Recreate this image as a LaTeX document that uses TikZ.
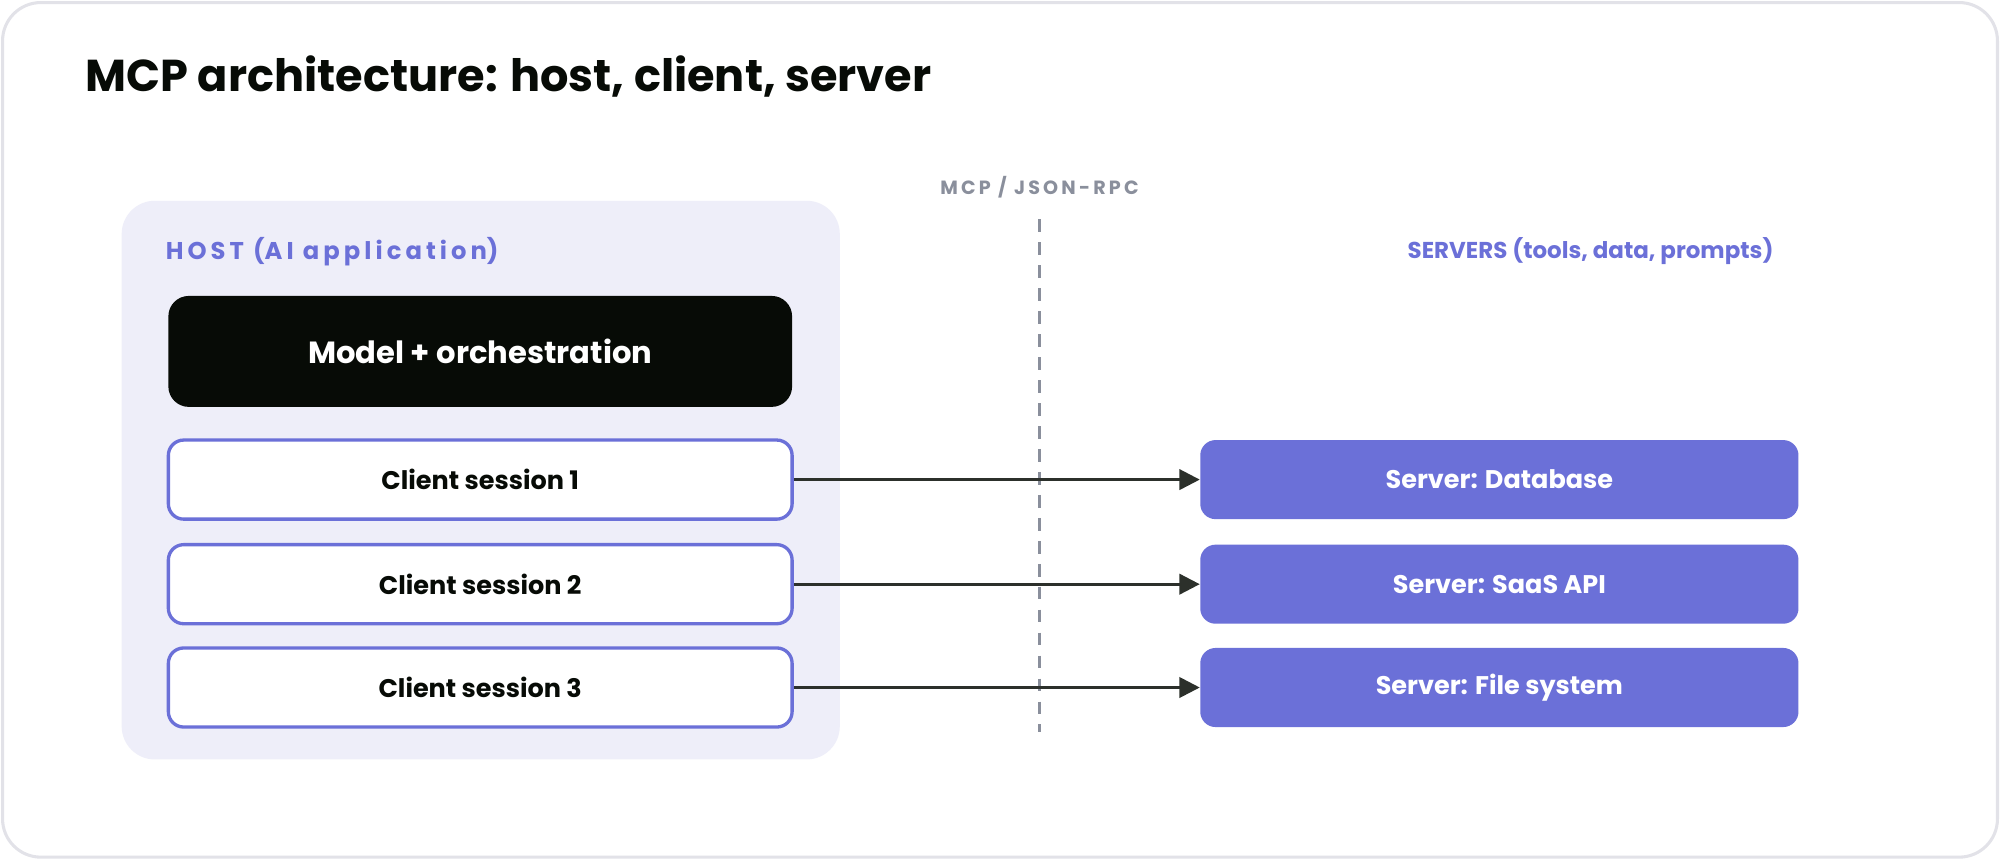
\documentclass[tikz,border=0pt]{standalone}
\usepackage{fontspec}
\setmainfont{Poppins}
\usetikzlibrary{arrows.meta}
\definecolor{pur}{HTML}{6B70D8}
\definecolor{hostbg}{HTML}{EEEEF9}
\definecolor{blk}{HTML}{070B06}
\definecolor{gr}{HTML}{8A8F9C}
\definecolor{frame}{HTML}{E2E2E8}
\begin{document}
\begin{tikzpicture}[x=0.5pt,y=-0.5pt,
  client/.style={draw=pur,line width=1.3pt,fill=white,rounded corners=6pt,minimum width=244.5pt,minimum height=31pt,font=\fontsize{10}{12}\selectfont\bfseries,text=blk},
  server/.style={fill=pur,rounded corners=6pt,minimum width=234.5pt,minimum height=31pt,font=\fontsize{10}{12}\selectfont\bfseries,text=white},
  conn/.style={line width=1.1pt,draw=blk!85,-{Triangle[length=8pt,width=8pt]}}]
\useasboundingbox (0,0) rectangle (1568,674);
\draw[frame,line width=1.2pt,fill=white,rounded corners=15pt] (2,2) rectangle (1566,672);
\node[anchor=west,font=\fontsize{17.5}{21}\selectfont\bfseries,text=blk] (title) at (60,60) {MCP architecture: host, client, server};
\node[fill=hostbg,rounded corners=13pt,minimum width=281.5pt,minimum height=219pt,anchor=north west] (host) at (95,157) {};
\node[anchor=west,font=\fontsize{9.5}{11}\selectfont\bfseries,text=pur] (hostl) at (123,197) {H\,O\,S\,T\, (A\,I\, a\,p\,p\,l\,i\,c\,a\,t\,i\,o\,n)};
\node[fill=blk,rounded corners=8pt,minimum width=244.5pt,minimum height=43.5pt,font=\fontsize{12}{14}\selectfont\bfseries,text=white] (model) at (376.5,275.5) {Model + orchestration};
\node[client] (c1) at (376.5,376) {Client session 1};
\node[client] (c2) at (376.5,458) {Client session 2};
\node[client] (c3) at (376.5,539) {Client session 3};
\node[server] (s1) at (1175.5,376) {Server: Database};
\node[server] (s2) at (1175.5,458) {Server: SaaS API};
\node[server] (s3) at (1175.5,539) {Server: File system};
\node[font=\fontsize{7.5}{9}\selectfont\bfseries,text=gr] (mcp) at (815,147) {M\,C\,P\, /\, J\,S\,O\,N\,-\,R\,P\,C};
\node[font=\fontsize{9}{11}\selectfont\bfseries,text=pur] (srvl) at (1247,197) {SERVERS (tools, data, prompts)};
\coordinate (d1) at (815,172); \coordinate (d2) at (815,574);
\draw[gr,line width=1pt,dash pattern=on 5pt off 4pt] (d1) -- (d2);
\draw[conn] (c1) -- (s1);
\draw[conn] (c2) -- (s2);
\draw[conn] (c3) -- (s3);
\end{tikzpicture}
\end{document}
